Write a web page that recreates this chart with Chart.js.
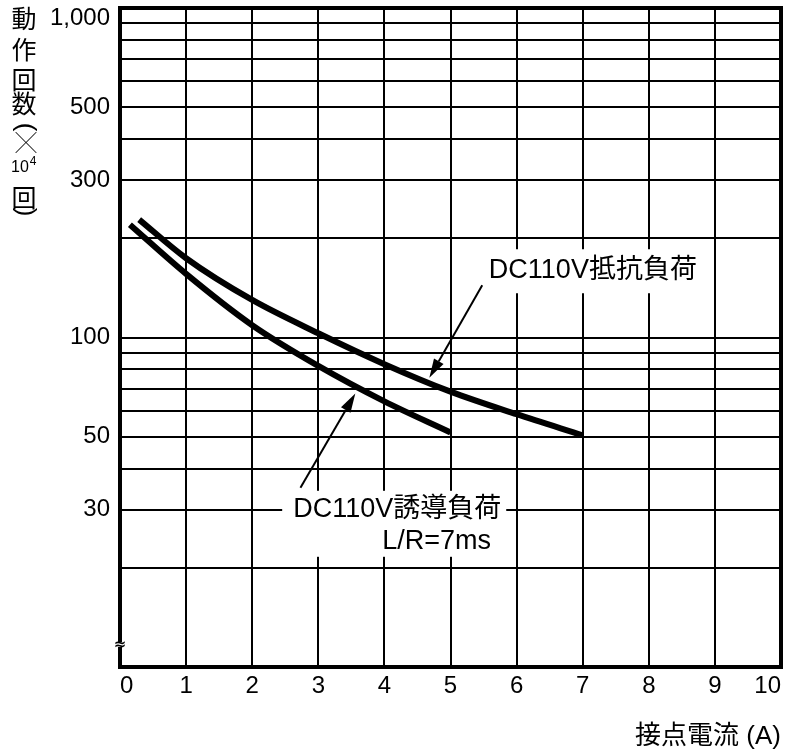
<!DOCTYPE html>
<html>
<head>
<meta charset="utf-8">
<script src="https://cdn.jsdelivr.net/npm/chart.js@4.4.1/dist/chart.umd.min.js"></script>
<style>
  html, body { margin: 0; padding: 0; background: #fff; overflow: hidden; }
</style>
</head>
<body>
<canvas id="chart" width="790" height="754"></canvas>
<script>
// x: contact current (A), y: operations (x10^4)
const currentTicks = [0, 1, 2, 3, 4, 5, 6, 7, 8, 9, 10];
const countTicks = [10, 20, 30, 40, 50, 60, 70, 80, 90, 100, 200, 300, 400, 500, 600, 700, 800, 900, 1000];
const countLabels = [30, 50, 100, 300, 500, 1000];

const resistiveX = [0.29, 1, 2, 3, 4, 5, 6, 7];
const resistiveY = [228, 174, 130, 103, 83, 68.5, 58.5, 50.5];
const inductiveX = [0.15, 1, 2, 3, 4, 5];
const inductiveY = [220, 156, 109, 82, 64, 51.5];

const LATIN = '"Liberation Sans", Arial, "Noto Sans CJK JP", sans-serif';
const CJK = '"Liberation Sans", "Noto Sans CJK JP", sans-serif';

const toPoints = (xs, ys) => xs.map((x, i) => ({ x, y: ys[i] }));

// labels + arrows, anchored in data coordinates
const notes = [
  { lines: [['DC110V抵抗負荷', 0, 0]], x: 5.58, y: 160, padL: 10, padR: 8, padT: 21, padB: 23,
    arrow: { from: [5.48, 144], to: [4.68, 75.5] } },
  { lines: [['DC110V誘導負荷', 0, 0], ['L/R=7ms', 89, 32]], x: 2.62, y: 30, padL: 11, padR: 5, padT: 19, padB: 15,
    arrow: { from: [2.73, 35], to: [3.56, 67.6] } }
];

const annotate = {
  id: 'annotate',
  afterDatasetsDraw(chart) {
    const { ctx, scales: { x, y } } = chart;
    ctx.save();
    ctx.font = '27px ' + CJK;
    ctx.textBaseline = 'middle';
    ctx.textAlign = 'left';
    notes.forEach(n => {
      const px = x.getPixelForValue(n.x), py = y.getPixelForValue(n.y);
      let right = px, bottom = py;
      n.lines.forEach(([t, dx, dy]) => {
        right = Math.max(right, px + dx + ctx.measureText(t).width);
        bottom = Math.max(bottom, py + dy);
      });
      ctx.fillStyle = '#fff';
      ctx.fillRect(px - n.padL, py - n.padT, right - px + n.padL + n.padR, bottom - py + n.padT + n.padB);
      ctx.fillStyle = '#000';
      n.lines.forEach(([t, dx, dy]) => ctx.fillText(t, px + dx, py + dy));

      const x0 = x.getPixelForValue(n.arrow.from[0]), y0 = y.getPixelForValue(n.arrow.from[1]);
      const x1 = x.getPixelForValue(n.arrow.to[0]), y1 = y.getPixelForValue(n.arrow.to[1]);
      const a = Math.atan2(y1 - y0, x1 - x0);
      const len = 19, half = 5.5;
      const bx = x1 - len * Math.cos(a), by = y1 - len * Math.sin(a);
      ctx.strokeStyle = '#000';
      ctx.lineWidth = 2;
      ctx.beginPath();
      ctx.moveTo(x0, y0);
      ctx.lineTo(bx, by);
      ctx.stroke();
      ctx.beginPath();
      ctx.moveTo(x1, y1);
      ctx.lineTo(bx + half * Math.sin(a), by - half * Math.cos(a));
      ctx.lineTo(bx - half * Math.sin(a), by + half * Math.cos(a));
      ctx.closePath();
      ctx.fill();
    });
    ctx.restore();
  },
  afterDraw(chart) {
    const { ctx, chartArea: ca } = chart;
    ctx.save();
    // frame
    ctx.strokeStyle = '#000';
    ctx.lineWidth = 4;
    ctx.strokeRect(ca.left, ca.top, ca.right - ca.left, ca.bottom - ca.top);
    // axis break mark
    ctx.fillStyle = '#fff';
    ctx.fillRect(ca.left - 3, ca.bottom - 25, 6, 5);
    ctx.fillStyle = '#000';
    ctx.font = 'bold 15px "DejaVu Sans", sans-serif';
    ctx.textAlign = 'center';
    ctx.textBaseline = 'middle';
    ctx.fillText('≈', ca.left, ca.bottom - 22);

    // vertical y-axis title
    const cx = 24;
    ctx.font = '25px "Noto Sans CJK JP", sans-serif';
    [['動', 18], ['作', 49], ['回', 79], ['数', 103], ['回', 197]].forEach(([t, ty]) => ctx.fillText(t, cx, ty));
    ctx.font = '21px "Noto Sans CJK JP", sans-serif';
    ctx.fillText('╳', 26, 142);
    ctx.font = '16px ' + LATIN;
    ctx.fillText('10', 20, 168);
    ctx.font = '12px ' + LATIN;
    ctx.fillText('4', 33, 162);
    ctx.font = '26px ' + LATIN;
    [['(', 127], [')', 212]].forEach(([t, ty]) => {
      ctx.save();
      ctx.translate(cx + 1, ty);
      ctx.rotate(Math.PI / 2);
      ctx.fillText(t, 0, 0);
      ctx.restore();
    });
    ctx.restore();
  }
};

new Chart(document.getElementById('chart'), {
  type: 'line',
  data: {
    datasets: [
      { label: 'DC110V抵抗負荷', data: toPoints(resistiveX, resistiveY) },
      { label: 'DC110V誘導負荷', data: toPoints(inductiveX, inductiveY) }
    ]
  },
  options: {
    responsive: false,
    animation: false,
    devicePixelRatio: 1,
    layout: { padding: { left: 0, right: 9, top: 8, bottom: 0 } },
    elements: {
      line: { borderColor: '#000', borderWidth: 6, borderCapStyle: 'butt', cubicInterpolationMode: 'monotone', fill: false },
      point: { radius: 0, hoverRadius: 0 }
    },
    plugins: { legend: { display: false }, tooltip: { enabled: false } },
    scales: {
      x: {
        type: 'linear',
        min: 0,
        max: 10,
        afterBuildTicks: s => { s.ticks = currentTicks.map(v => ({ value: v })); },
        afterFit: s => { s.height = 87; s.paddingLeft = 0; s.paddingRight = 0; },
        grid: { color: '#000', lineWidth: 2, drawTicks: false },
        border: { display: false },
        ticks: {
          color: '#000',
          font: { family: LATIN, size: 24 },
          padding: 5,
          maxRotation: 0,
          autoSkip: false,
          callback: v => v === 0 ? '  0' : v === 10 ? '10    ' : String(v)
        },
        title: {
          display: true,
          text: '接点電流 (A)',
          align: 'end',
          color: '#000',
          font: { family: CJK, size: 26 },
          padding: { top: 0, bottom: 2 }
        }
      },
      y: {
        type: 'logarithmic',
        min: 10,
        max: 1000,
        afterBuildTicks: s => { s.ticks = countTicks.map(v => ({ value: v })); },
        afterFit: s => { s.width = 120; s.paddingTop = 0; s.paddingBottom = 0; },
        grid: { color: '#000', lineWidth: 2, drawTicks: false },
        border: { display: false },
        ticks: {
          color: '#000',
          font: c => ({ family: LATIN, size: 24, lineHeight: c.tick && c.tick.value === 1000 ? '20px' : 1.2 }),
          padding: 10,
          autoSkip: false,
          callback: v => !countLabels.includes(v) ? '' : v === 1000 ? ['', '1,000'] : String(v)
        }
      }
    }
  },
  plugins: [annotate]
});
</script>
</body>
</html>
